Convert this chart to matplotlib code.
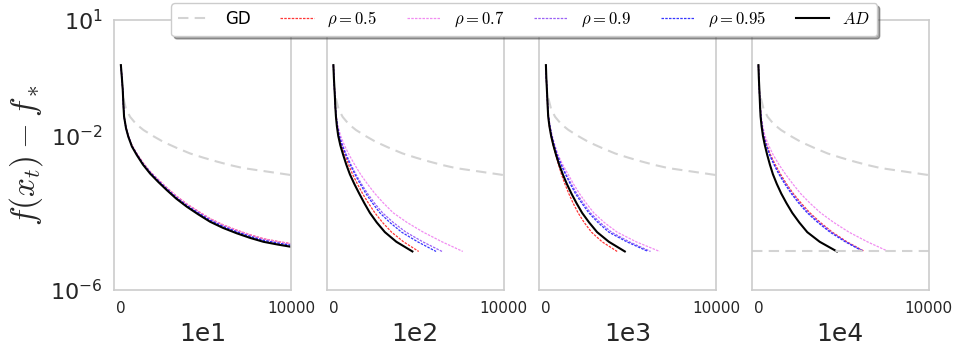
import numpy as np
import matplotlib
matplotlib.use('Agg')
import matplotlib.pyplot as plt

plt.rcParams['mathtext.fontset'] = 'cm'
plt.rcParams['font.family'] = ['DejaVu Sans']

# Paneles (tamaño del problema)
panels = ['1e1', '1e2', '1e3', '1e4']
labels = ['$\\rho=0.5$', '$\\rho=0.7$', '$\\rho=0.9$', '$\\rho=0.95$']
colors = ['#ff2020', '#f080f0', '#9050f5', '#2020ff']

# GD (igual en los cuatro paneles), exponentes log10 de f(x_t) - f_*
gd_x = [147, 300, 541, 900, 1322, 1900, 2497, 3250, 4066, 4850, 5635, 6400, 7198, 8600, 10000]
gd_log = [-1.03, -1.30, -1.51, -1.70, -1.85, -2.01, -2.16, -2.31, -2.46, -2.57, -2.67, -2.76, -2.84, -2.93, -3.02]

# Panel 1e1: todas las curvas casi superpuestas
p1_x = [1, 60, 112, 150, 188, 300, 441, 650, 934, 1300, 1716, 2200, 2697, 3250, 3872, 4550,
        5241, 6000, 6810, 7600, 8373, 9200, 10000]
p1_ad = [-0.17, -0.5, -0.82, -1.2, -1.5, -1.8, -2.03, -2.28, -2.50, -2.75, -2.98, -3.2, -3.41,
         -3.63, -3.84, -4.04, -4.23, -4.39, -4.53, -4.65, -4.75, -4.82, -4.88]
p1_rho_hi = [-0.17, -0.5, -0.82, -1.2, -1.5, -1.79, -2.01, -2.25, -2.46, -2.70, -2.93, -3.14, -3.35,
             -3.56, -3.77, -3.96, -4.15, -4.31, -4.45, -4.57, -4.67, -4.74, -4.80]
p1_rho_lo = [-0.17, -0.5, -0.82, -1.2, -1.5, -1.8, -2.02, -2.27, -2.48, -2.73, -2.95, -3.17, -3.38,
             -3.60, -3.81, -4.00, -4.19, -4.35, -4.49, -4.61, -4.71, -4.78, -4.84]

# Paneles 1e2..1e4: iteración en la que cada curva cruza cada nivel
levels = [-0.17, -0.5, -1.0, -1.25, -1.5, -1.75, -2.0, -2.25, -2.5, -2.75, -3.0, -3.25, -3.5,
          -3.75, -4.0, -4.25, -4.5, -4.75, -5.0]

ad_1e2 = [1, 30, 90, 115, 150, 205, 284, 410, 578, 760, 969, 1230, 1518, 1820, 2145, 2550, 3026, 3700, 4640]
r05_1e2 = [1, 30, 90, 118, 155, 220, 323, 480, 676, 890, 1127, 1410, 1714, 2060, 2439, 2890, 3418, 4120, 5010]
r07_1e2 = [1, 30, 90, 120, 170, 270, 421, 650, 930, 1250, 1596, 2000, 2439, 2950, 3516, 4330, 5279, 6380, 7600]
r09_1e2 = [1, 30, 90, 118, 162, 240, 355, 540, 773, 1035, 1322, 1650, 2008, 2420, 2889, 3520, 4260, 5250, 6380]
r095_1e2 = [1, 30, 90, 118, 160, 235, 343, 520, 734, 985, 1263, 1575, 1910, 2300, 2732, 3320, 4006, 4950, 6030]

ad_1e3 = [1, 25, 80, 105, 135, 205, 306, 440, 599, 780, 991, 1230, 1500, 1800, 2127, 2540, 3008, 3700, 4634]
r05_1e3 = [1, 25, 80, 105, 135, 205, 300, 430, 580, 740, 913, 1115, 1344, 1600, 1892, 2250, 2676, 3300, 4184]
r07_1e3 = [1, 25, 80, 110, 158, 250, 370, 530, 717, 990, 1305, 1620, 1970, 2370, 2813, 3430, 4184, 5300, 6680]
r09_1e3 = [1, 25, 80, 108, 152, 235, 350, 500, 680, 920, 1187, 1490, 1813, 2200, 2617, 3180, 3851, 4900, 6143]
r095_1e3 = [1, 25, 80, 108, 150, 230, 340, 485, 658, 890, 1148, 1430, 1735, 2110, 2519, 3060, 3694, 4750, 6000]

ad_1e4 = [1, 25, 75, 98, 127, 185, 264, 380, 519, 675, 852, 1080, 1342, 1650, 1988, 2400, 2869, 3600, 4610]
r05_1e4 = [1, 25, 75, 110, 150, 225, 323, 500, 715, 990, 1303, 1650, 2047, 2510, 3026, 3640, 4338, 5200, 6230]
r07_1e4 = [1, 25, 75, 112, 160, 255, 382, 600, 872, 1210, 1596, 2020, 2478, 3030, 3653, 4430, 5318, 6400, 7630]
r09_1e4 = [1, 25, 75, 108, 147, 218, 310, 475, 676, 940, 1244, 1600, 1988, 2440, 2947, 3570, 4280, 5150, 6190]
r095_1e4 = [1, 25, 75, 106, 145, 212, 300, 460, 656, 915, 1205, 1550, 1929, 2370, 2869, 3490, 4202, 5100, 6150]

tol = 1e-5

curvas = {
    '1e2': (ad_1e2, [r05_1e2, r07_1e2, r09_1e2, r095_1e2]),
    '1e3': (ad_1e3, [r05_1e3, r07_1e3, r09_1e3, r095_1e3]),
    '1e4': (ad_1e4, [r05_1e4, r07_1e4, r09_1e4, r095_1e4]),
}

def val(lg):
    return np.power(10.0, lg)

fig, axes = plt.subplots(1, 4, figsize=(9.6, 3.49), dpi=100, sharey=True)
plt.subplots_adjust(left=0.1188, right=0.9674, bottom=0.169, top=0.9427, wspace=0.2)

rho_style = dict(linestyle=(0, (2, 1)), linewidth=0.9, alpha=0.9)
gd_style = dict(color='#d3d3d3', linestyle=(0, (5, 3)), linewidth=1.5)

for ax, name in zip(axes, panels):
    ax.plot(gd_x, val(gd_log), label='GD', **gd_style)
    if name == '1e1':
        series = [p1_rho_hi, p1_rho_hi, p1_rho_lo, p1_rho_lo]
        for s, c, l in zip(series, colors, labels):
            ax.plot(p1_x, val(s), color=c, label=l, **rho_style)
        ax.plot(p1_x, val(p1_ad), color='black', linewidth=1.5, label='$AD$')
    else:
        ad, rhos = curvas[name]
        for s, c, l in zip(rhos, colors, labels):
            ax.plot(s, val(levels), color=c, label=l, **rho_style)
        ax.plot(ad, val(levels), color='black', linewidth=1.5, label='$AD$')
    if name == '1e4':
        ax.axhline(tol, **gd_style)

    ax.set_yscale('log')
    ax.set_ylim(1e-6, 1e1)
    ax.set_xlim(-400, 10000)
    ax.set_yticks([1e1, 1e-2, 1e-6])
    ax.minorticks_off()
    ax.set_xticks([0, 10000])
    ax.set_xlabel(name, fontsize=18, color='#262626')
    ax.tick_params(axis='x', length=0, labelsize=11, pad=8, colors='#262626')
    ax.tick_params(axis='y', length=0, labelsize=16, pad=8, colors='#262626')
    for sp in ax.spines.values():
        sp.set_color('#cccccc')
        sp.set_linewidth(1.2)

axes[0].set_ylabel('$f(x_t) - f_*$', fontsize=24, color='#262626')

handles, labs = axes[0].get_legend_handles_labels()
fig.legend(handles, labs, loc='upper center', bbox_to_anchor=(0.546, 1.0), ncol=6,
           fontsize=12, shadow=True, fancybox=True, handlelength=2.0, handletextpad=0.8,
           columnspacing=1.8, borderaxespad=0.2)

plt.savefig('out.png', dpi=100)
